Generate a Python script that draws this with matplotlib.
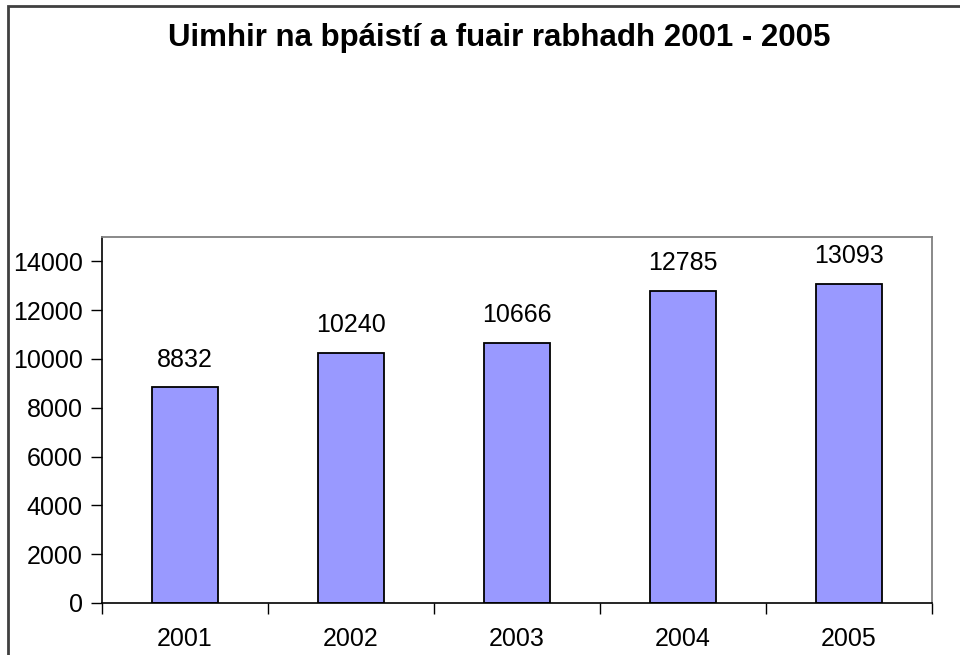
import matplotlib

matplotlib.use("Agg")
import matplotlib.pyplot as plt
from matplotlib.patches import Rectangle

years = ["2001", "2002", "2003", "2004", "2005"]
counts = [8832, 10240, 10666, 12785, 13093]
y_ticks = [0, 2000, 4000, 6000, 8000, 10000, 12000, 14000]
title = "Uimhir na bpáistí a fuair rabhadh 2001 - 2005"

plt.rcParams["font.family"] = ["Liberation Sans", "DejaVu Sans"]

fig = plt.figure(figsize=(9.6, 6.55), dpi=100)
ax = fig.add_axes([102 / 960, 52 / 655, 830 / 960, 366 / 655])

x = list(range(len(years)))
bars = ax.bar(x, counts, width=0.4, color="#9999FF", edgecolor="black", linewidth=1.3, zorder=2)
for bar, value in zip(bars, counts):
    ax.text(bar.get_x() + bar.get_width() / 2, value + 650, str(value),
            ha="center", va="bottom", fontsize=18)

ax.set_xlim(-0.5, len(years) - 0.5)
ax.set_ylim(0, 15000)
ax.set_yticks(y_ticks)
ax.set_yticklabels([str(v) for v in y_ticks], fontsize=18)
ax.tick_params(axis="y", direction="out", length=8, width=1, pad=6)

# tick marks between categories, labels centred under bars
ax.set_xticks([i - 0.5 for i in range(len(years) + 1)])
ax.set_xticklabels([])
ax.tick_params(axis="x", which="major", direction="out", length=8, width=1)
ax.set_xticks(x, minor=True)
ax.set_xticklabels(years, minor=True, fontsize=18)
ax.tick_params(axis="x", which="minor", length=0, pad=17)

for side in ("top", "right"):
    ax.spines[side].set_color("#808080")
    ax.spines[side].set_linewidth(1.3)
for side in ("left", "bottom"):
    ax.spines[side].set_color("black")
    ax.spines[side].set_linewidth(1.2)

fig.text(499 / 960, 1 - 38 / 655, title, ha="center", va="center",
         fontsize=22.5, fontweight="bold")

# outer chart frame, open to the right and bottom
fig.patches.append(Rectangle((8 / 960, -0.1), 1.2, (655 - 6) / 655 + 0.1,
                             transform=fig.transFigure, fill=False,
                             edgecolor="#404040", linewidth=2))

fig.savefig("out.png", dpi=100)
